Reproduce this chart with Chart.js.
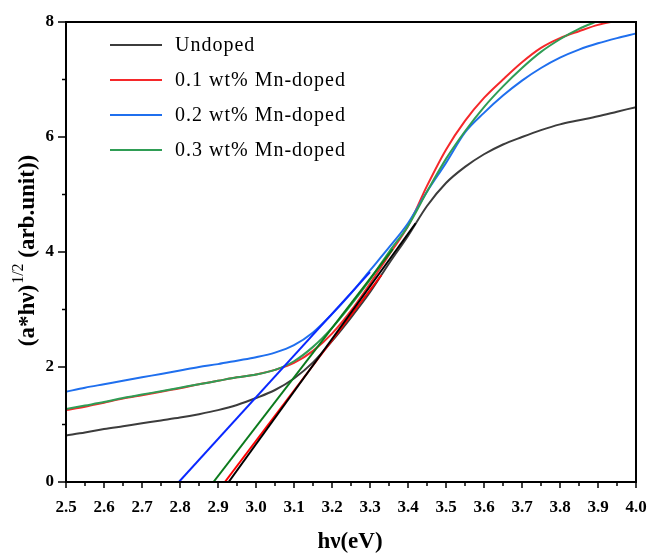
<!DOCTYPE html>
<html>
<head>
<meta charset="utf-8">
<script src="https://cdn.jsdelivr.net/npm/chart.js@4.4.1/dist/chart.umd.min.js"></script>
<style>
  html, body { margin: 0; padding: 0; background: #fff; }
  #wrap { width: 648px; height: 554px; }
</style>
</head>
<body>
<div id="wrap"><canvas id="tauc" width="648" height="554"></canvas></div>
<script>
// ── Tauc plot data: photon energy (eV) vs (a*hν)^1/2 ─────────────────────────
const energy = [2.50, 2.55, 2.60, 2.65, 2.70, 2.75, 2.80, 2.85, 2.90, 2.95,
                3.00, 3.05, 3.10, 3.15, 3.20, 3.25, 3.30, 3.35, 3.40, 3.45,
                3.50, 3.55, 3.60, 3.65, 3.70, 3.75, 3.80, 3.85, 3.90, 3.95, 4.00];

const undoped = [0.81, 0.86, 0.92, 0.97, 1.02, 1.07, 1.12, 1.18, 1.25, 1.34,
                 1.46, 1.60, 1.80, 2.08, 2.45, 2.86, 3.30, 3.80, 4.28, 4.80,
                 5.20, 5.48, 5.70, 5.87, 6.00, 6.12, 6.22, 6.29, 6.36, 6.44, 6.52];

const mn01 = [1.25, 1.31, 1.38, 1.45, 1.51, 1.57, 1.63, 1.70, 1.76, 1.82,
              1.87, 1.95, 2.07, 2.28, 2.58, 2.98, 3.45, 3.95, 4.45, 5.15,
              5.78, 6.28, 6.68, 7.00, 7.30, 7.55, 7.72, 7.84, 7.95, 8.02, null];

const mn02 = [1.57, 1.64, 1.70, 1.76, 1.82, 1.88, 1.94, 2.00, 2.05, 2.11,
              2.17, 2.25, 2.38, 2.60, 2.92, 3.28, 3.68, 4.08, 4.50, 5.05,
              5.55, 6.08, 6.42, 6.72, 6.98, 7.20, 7.38, 7.52, 7.63, 7.72, 7.80];

const mn03 = [1.27, 1.33, 1.39, 1.46, 1.52, 1.58, 1.64, 1.70, 1.76, 1.82,
              1.87, 1.95, 2.10, 2.35, 2.68, 3.08, 3.52, 4.00, 4.45, 5.05,
              5.62, 6.10, 6.52, 6.88, 7.20, 7.48, 7.70, 7.88, 8.02, null, null];

// linear extrapolations down to the energy axis (band gap)
const fitUndopedX = [2.928, 3.42];  const fitUndopedY = [0, 4.50];
const fitMn01X    = [2.918, 3.33];  const fitMn01Y    = [0, 3.60];
const fitMn02X    = [2.797, 3.30];  const fitMn02Y    = [0, 3.65];
const fitMn03X    = [2.888, 3.36];  const fitMn03Y    = [0, 4.05];

const seriesLabels = ["Undoped", "0.1 wt% Mn-doped", "0.2 wt% Mn-doped", "0.3 wt% Mn-doped"];
const xTicks = [2.5, 2.6, 2.7, 2.8, 2.9, 3.0, 3.1, 3.2, 3.3, 3.4, 3.5, 3.6, 3.7, 3.8, 3.9, 4.0];
const yTicks = [0, 2, 4, 6, 8];

// ── Styling ─────────────────────────────────────────────────────────────────
const curveColors = ["#3c3c3c", "#f5282a", "#1f6fee", "#2f9d55"];
const fitColors   = ["#000000", "#ff0000", "#0a28ff", "#0b7a1c"];
const SERIF = "'Liberation Serif', 'Times New Roman', serif";

const pts = (xs, ys) => xs.map((x, i) => ({ x: x, y: ys[i] }));

function curve(i, ys) {
  return {
    label: seriesLabels[i],
    data: pts(energy, ys),
    borderColor: curveColors[i],
    borderWidth: 2,
    pointRadius: 0,
    cubicInterpolationMode: "monotone",
    spanGaps: false,
    order: 10 - i,
  };
}

function fit(i, xs, ys) {
  return {
    label: "fit " + seriesLabels[i],
    data: pts(xs, ys),
    borderColor: fitColors[i],
    borderWidth: 2,
    pointRadius: 0,
    tension: 0,
    order: 1,
  };
}

// ── Plugin: frame, ticks, legend and axis titles ────────────────────────────
const decorations = {
  id: "decorations",
  afterDraw(chart) {
    const { ctx, chartArea: a, scales } = chart;
    const xs = scales.x, ys = scales.y;
    ctx.save();
    ctx.strokeStyle = "#000";
    ctx.lineWidth = 2;
    ctx.strokeRect(a.left, a.top, a.right - a.left, a.bottom - a.top);

    // outward tick marks, major with labels, minor at midpoints
    ctx.lineWidth = 1.5;
    ctx.beginPath();
    xTicks.forEach((v, i) => {
      const px = xs.getPixelForValue(v);
      ctx.moveTo(px, a.bottom); ctx.lineTo(px, a.bottom + 6);
      if (i < xTicks.length - 1) {
        const mx = xs.getPixelForValue((v + xTicks[i + 1]) / 2);
        ctx.moveTo(mx, a.bottom); ctx.lineTo(mx, a.bottom + 4);
      }
    });
    yTicks.forEach((v, i) => {
      const py = ys.getPixelForValue(v);
      ctx.moveTo(a.left, py); ctx.lineTo(a.left - 8, py);
      if (i < yTicks.length - 1) {
        const my = ys.getPixelForValue((v + yTicks[i + 1]) / 2);
        ctx.moveTo(a.left, my); ctx.lineTo(a.left - 4, my);
      }
    });
    ctx.stroke();

    // legend
    ctx.font = "20px " + SERIF;
    ctx.letterSpacing = "1px";
    ctx.textBaseline = "middle";
    ctx.fillStyle = "#000";
    seriesLabels.forEach((lab, i) => {
      const y = 45 + i * 35;
      ctx.strokeStyle = curveColors[i];
      ctx.lineWidth = 2;
      ctx.beginPath(); ctx.moveTo(110, y); ctx.lineTo(162, y); ctx.stroke();
      ctx.fillText(lab, 175, y + 1);
    });
    ctx.letterSpacing = "0px";

    // x title
    ctx.font = "bold 23px " + SERIF;
    ctx.textAlign = "center";
    ctx.fillText("hν(eV)", 350, 542);

    // y title with superscript
    ctx.translate(26, 251);
    ctx.rotate(-Math.PI / 2);
    const partA = "(a*hν)", sup = "1/2", partB = " (arb.unit))";
    const bold = "bold 23px " + SERIF, small = "16px " + SERIF;
    ctx.font = bold; const wA = ctx.measureText(partA).width, wB = ctx.measureText(partB).width;
    ctx.font = small; const wS = ctx.measureText(sup).width;
    const x0 = -(wA + wS + wB) / 2;
    ctx.textAlign = "left";
    ctx.font = bold; ctx.fillText(partA, x0, 2);
    ctx.font = small; ctx.fillText(sup, x0 + wA + 1, -7);
    ctx.font = bold; ctx.fillText(partB, x0 + wA + wS + 1, 2);
    ctx.restore();
  },
};

new Chart(document.getElementById("tauc"), {
  type: "line",
  data: {
    datasets: [
      curve(0, undoped), curve(1, mn01), curve(2, mn02), curve(3, mn03),
      fit(0, fitUndopedX, fitUndopedY), fit(1, fitMn01X, fitMn01Y),
      fit(2, fitMn02X, fitMn02Y), fit(3, fitMn03X, fitMn03Y),
    ],
  },
  options: {
    responsive: false,
    animation: false,
    layout: { padding: { top: 22, right: 12, left: 0, bottom: 0 } },
    scales: {
      x: {
        type: "linear", min: 2.5, max: 4.0,
        afterBuildTicks: (s) => { s.ticks = xTicks.map(v => ({ value: v })); },
        afterFit: (s) => { s.height = 72; s.paddingLeft = 0; s.paddingRight = 0; },
        grid: { display: false, drawTicks: false },
        border: { display: false },
        ticks: {
          padding: 15, color: "#000", maxRotation: 0, autoSkip: false,
          font: { family: SERIF, size: 17, weight: "bold" },
          callback: (v) => v.toFixed(1),
        },
      },
      y: {
        type: "linear", min: 0, max: 8,
        afterBuildTicks: (s) => { s.ticks = yTicks.map(v => ({ value: v })); },
        afterFit: (s) => { s.width = 66; s.paddingTop = 0; s.paddingBottom = 0; },
        grid: { display: false, drawTicks: false },
        border: { display: false },
        ticks: {
          padding: 12, color: "#000",
          font: { family: SERIF, size: 17, weight: "bold" },
        },
      },
    },
    plugins: { legend: { display: false }, tooltip: { enabled: false } },
  },
  plugins: [decorations],
});
</script>
</body>
</html>
